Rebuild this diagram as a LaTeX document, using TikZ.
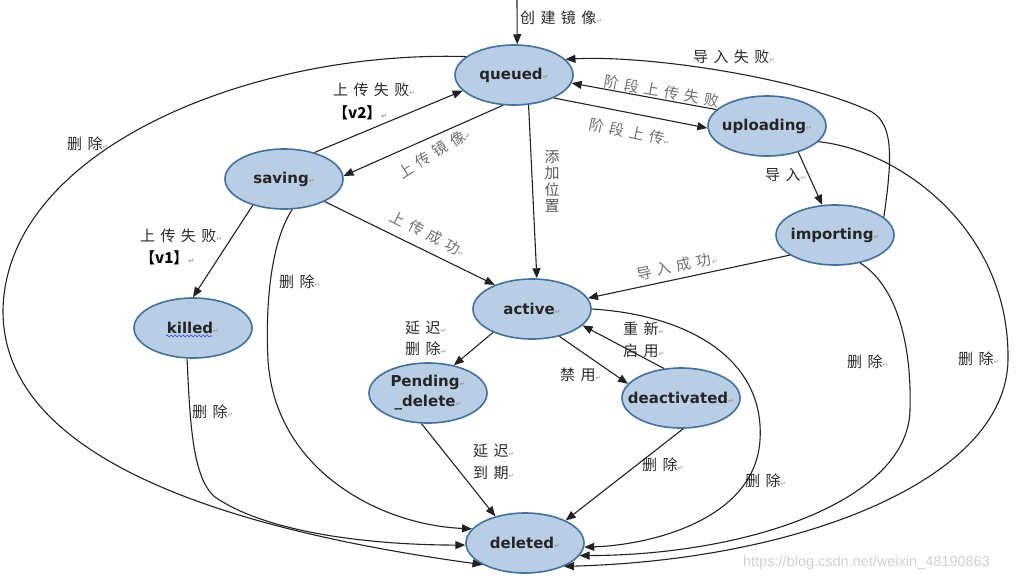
\documentclass[tikz,border=0pt]{standalone}
\usepackage{fontspec}
\usetikzlibrary{arrows.meta,shapes.geometric,decorations.pathmorphing}
\newfontfamily\cjk{Noto Sans CJK SC}[LetterSpace=36]
\newfontfamily\cjkv{Noto Sans CJK SC}
\newfontfamily\nodef{DejaVu Sans}
\newfontfamily\symf{DejaVu Sans}
\newfontfamily\wmf{Liberation Sans}
\definecolor{statefill}{HTML}{B9CDE5}
\definecolor{stateline}{HTML}{41719C}
\definecolor{edgec}{HTML}{222222}
\definecolor{labc}{HTML}{2A2A2A}
\definecolor{rotc}{HTML}{707070}
\definecolor{retc}{HTML}{9A9A9A}
\newcommand\retmark{{\symf\fontsize{7pt}{7pt}\selectfont\textcolor{retc}{↵}}}
\begin{document}
\begin{tikzpicture}[x=1pt,y=-1pt,
  state/.style={ellipse, draw=stateline, fill=statefill, line width=1.6pt,
    minimum width=118pt, minimum height=60pt, inner sep=0pt},
  stxt/.style={font=\nodef\bfseries\fontsize{15pt}{20pt}\selectfont, text=black!85,
    inner sep=0pt, align=center},
  arr/.style={draw=edgec, line width=1.1pt, -{Triangle[length=10pt,width=8pt]}},
  lab/.style={font=\cjk\fontsize{15pt}{18pt}\selectfont, text=labc, inner sep=0pt, anchor=west},
  blab/.style={font=\cjkv\bfseries\fontsize{15pt}{18pt}\selectfont, text=black, inner sep=0pt, anchor=west},
  rlab/.style={font=\cjk\fontsize{15pt}{18pt}\selectfont, text=rotc, inner sep=0pt},
]
\useasboundingbox[fill=white] (0,0) rectangle (1023,582);

% states
\node[state, label={[stxt]center:{queued\retmark}}] (queued) at (514,75) {};
\node[state, label={[stxt]center:{saving\retmark}}] (saving) at (284,179) {};
\node[state, label={[stxt]center:{killed\retmark}}] (killed) at (193,328) {};
\node[state, label={[stxt]center:{uploading\retmark}}] (uploading) at (767,126) {};
\node[state, label={[stxt]center:{importing\retmark}}] (importing) at (835,235) {};
\node[state, label={[stxt]center:{active\retmark}}] (active) at (532,309) {};
\node[state, label={[stxt]center:{Pending\retmark\\\_delete\retmark}}] (pending) at (428,393) {};
\node[state, label={[stxt]center:{deactivated\retmark}}] (deactivated) at (681,398) {};
\node[state, label={[stxt]center:{deleted\retmark}}] (deleted) at (525,543) {};

% spell-check underline under "killed"
\draw[blue!75!white, line width=0.6pt, decorate,
  decoration={snake, amplitude=1pt, segment length=4pt}] (166,336) -- (212,336);

% entry
\coordinate (start) at (517,0);
\draw[arr] (start) -- (queued.84);
\node[lab] at (520,18) {创建镜像\retmark};

% straight transitions
\draw[arr] (queued.250) -- (saving.3);
\draw[arr] (saving.41) -- (queued.197);
\draw[arr] (queued.-30) -- (uploading.182);
\draw[arr] (uploading.162) -- (queued.-8);
\draw[arr] (queued.-64) -- (active.81);
\draw[arr] (uploading.-40) -- (importing.113);
\draw[arr] (importing.204) -- (active.11);
\draw[arr] (saving.-29) -- (active.147);
\draw[arr] (saving.220) -- (killed.90);
\draw[arr] (active.211) -- (pending.47);
\draw[arr] (active.-45) -- (deactivated.165);
\draw[arr] (deactivated.120) -- (active.-18);
\draw[arr] (pending.258) -- (deleted.138);
\draw[arr] (deactivated.-86) -- (deleted.29);

% curved transitions
\draw[arr] (importing.20) .. controls (892,160) and (894,125) .. (872,112)
  .. controls (800,78) and (650,55) .. (queued.17);
\draw[arr] (active.0) .. controls (690,315) and (765,360) .. (760,440)
  .. controls (755,520) and (650,545) .. (deleted.-4);
\draw[arr] (importing.-48) .. controls (895,285) and (912,340) .. (910,410)
  .. controls (908,500) and (750,555) .. (deleted.-13);
\draw[arr] (uploading.-17) .. controls (900,150) and (1010,230) .. (1008,360)
  .. controls (1006,480) and (800,560) .. (deleted.-31);
\draw[arr] (killed.259) .. controls (190,420) and (192,478) .. (215,497)
  .. controls (270,535) and (380,545) .. (deleted.182);
\draw[arr] (saving.-75) .. controls (272,240) and (265,300) .. (268,360)
  .. controls (275,470) and (380,525) .. (deleted.165);
\draw[arr] (queued.159) .. controls (250,50) and (6,150) .. (3,310)
  .. controls (2,460) and (230,530) .. (deleted.207);

% labels
\node[lab] at (693,57) {导入失败\retmark};
\node[lab] at (333,90) {上传失败\retmark};
\node[blab] at (333,113) {【v2】\retmark};
\node[rlab, rotate=-10] at (662,91) {阶段上传失败};
\node[rlab, rotate=-12] at (630,132) {阶段上传\retmark};
\node[rlab, rotate=32] at (434,153) {上传镜像\retmark};
\node[font=\cjkv\fontsize{15pt}{16.5pt}\selectfont, text=rotc!80!black, align=center, inner sep=0pt]
  at (552,181) {添\\加\\位\\置};
\node[lab] at (765,175) {导入\retmark};
\node[rlab, rotate=-27] at (428,234) {上传成功\retmark};
\node[rlab, rotate=12] at (677,266) {导入成功\retmark};
\node[lab] at (140,236) {上传失败\retmark};
\node[blab] at (140,258) {【v1】\retmark};
\node[lab] at (67,144) {删除\retmark};
\node[lab] at (279,282) {删除\retmark};
\node[lab] at (192,412) {删除\retmark};
\node[lab] at (405,328) {延迟\retmark};
\node[lab] at (405,349) {删除\retmark};
\node[lab] at (560,375) {禁用\retmark};
\node[lab] at (623,329) {重新\retmark};
\node[lab] at (623,351) {启用\retmark};
\node[lab] at (473,451) {延迟\retmark};
\node[lab] at (473,473) {到期\retmark};
\node[lab] at (642,465) {删除\retmark};
\node[lab] at (745,481) {删除\retmark};
\node[lab] at (847,362) {删除\retmark};
\node[lab] at (958,359) {删除\retmark};

% watermark
\node[font=\wmf\fontsize{14.5pt}{16pt}\selectfont, text=black!18, anchor=west, inner sep=0pt]
  at (743,563) {https://blog.csdn.net/weixin\_48190863};
\end{tikzpicture}
\end{document}
